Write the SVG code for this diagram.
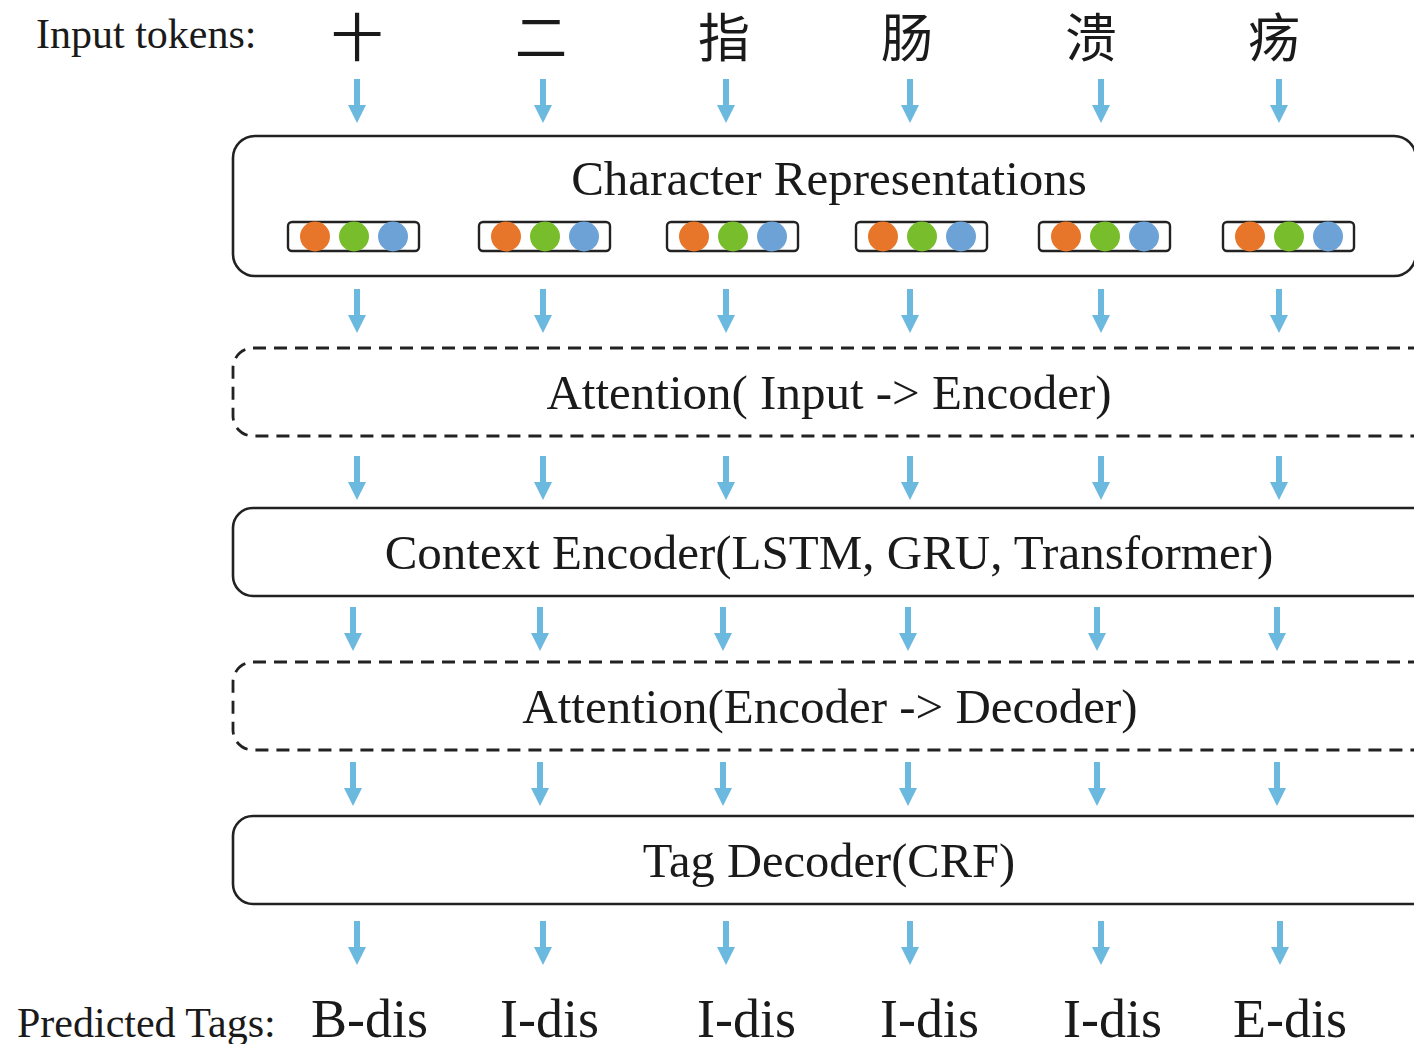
<svg xmlns="http://www.w3.org/2000/svg" xmlns:xlink="http://www.w3.org/1999/xlink" width="1414" height="1044" viewBox="0 0 1414 1044">
<style>
.lbl{font-family:"Liberation Serif","Times New Roman",serif;fill:#1a1a1a}
.cjk{font-family:"Noto Sans CJK SC","Noto Sans CJK TC",sans-serif;fill:#1a1a1a;font-size:52px;text-anchor:middle}
.box{fill:#fff;stroke:#222;stroke-width:2.6}
.dash{fill:#fff;stroke:#222;stroke-width:2.8;stroke-dasharray:13 8}
.mini{fill:#fff;stroke:#222;stroke-width:2.4}
.arr{fill:#6cb9df}
.o{fill:#e8762a}.g{fill:#78bd2c}.b{fill:#6ca2d6}
.mid{text-anchor:middle}
</style>
<defs>
<path id="arrow" d="M-3,0 h6 v26 h6 l-9,18 l-9,-18 h6 z"/>
<g id="vec">
<rect class="mini" x="0" y="0" width="131" height="29" rx="4"/>
<circle class="o" cx="27" cy="14.5" r="15"/>
<circle class="g" cx="66" cy="14.5" r="15"/>
<circle class="b" cx="105" cy="14.5" r="15"/>
</g>
</defs>

<g id="input-label">
<text class="lbl" x="36" y="48" font-size="42">Input tokens:</text>
</g>
<g id="tokens">
<text class="cjk" x="357" y="57">十</text>
<text class="cjk" x="541" y="57">二</text>
<text class="cjk" x="724" y="57">指</text>
<text class="cjk" x="907" y="57">肠</text>
<text class="cjk" x="1091" y="57">溃</text>
<text class="cjk" x="1274" y="57">疡</text>
</g>

<g id="char-repr">
<rect class="box" x="233" y="136" width="1183" height="140" rx="22"/>
<text class="lbl mid" x="829" y="195" font-size="49">Character Representations</text>
<use xlink:href="#vec" x="288" y="222"/>
<use xlink:href="#vec" x="479" y="222"/>
<use xlink:href="#vec" x="667" y="222"/>
<use xlink:href="#vec" x="856" y="222"/>
<use xlink:href="#vec" x="1039" y="222"/>
<use xlink:href="#vec" x="1223" y="222"/>
</g>

<g id="attn-input">
<rect class="dash" x="233" y="348" width="1200" height="88" rx="20"/>
<text class="lbl mid" x="829" y="409" font-size="49">Attention( Input -&gt; Encoder)</text>
</g>

<g id="context-encoder">
<rect class="box" x="233" y="508" width="1200" height="88" rx="20"/>
<text class="lbl mid" x="829" y="569" font-size="49">Context Encoder(LSTM, GRU, Transformer)</text>
</g>

<g id="attn-encoder">
<rect class="dash" x="233" y="662" width="1200" height="88" rx="20"/>
<text class="lbl mid" x="830" y="723" font-size="49">Attention(Encoder -&gt; Decoder)</text>
</g>

<g id="tag-decoder">
<rect class="box" x="233" y="816" width="1200" height="88" rx="20"/>
<text class="lbl mid" x="829" y="877" font-size="48.5">Tag Decoder(CRF)</text>
</g>

<g id="connectors" class="arr">
<use xlink:href="#arrow" x="357" y="79"/>
<use xlink:href="#arrow" x="543" y="79"/>
<use xlink:href="#arrow" x="726" y="79"/>
<use xlink:href="#arrow" x="910" y="79"/>
<use xlink:href="#arrow" x="1101" y="79"/>
<use xlink:href="#arrow" x="1279" y="79"/>

<use xlink:href="#arrow" x="357" y="289"/>
<use xlink:href="#arrow" x="543" y="289"/>
<use xlink:href="#arrow" x="726" y="289"/>
<use xlink:href="#arrow" x="910" y="289"/>
<use xlink:href="#arrow" x="1101" y="289"/>
<use xlink:href="#arrow" x="1279" y="289"/>

<use xlink:href="#arrow" x="357" y="456"/>
<use xlink:href="#arrow" x="543" y="456"/>
<use xlink:href="#arrow" x="726" y="456"/>
<use xlink:href="#arrow" x="910" y="456"/>
<use xlink:href="#arrow" x="1101" y="456"/>
<use xlink:href="#arrow" x="1279" y="456"/>

<use xlink:href="#arrow" x="353" y="607"/>
<use xlink:href="#arrow" x="540" y="607"/>
<use xlink:href="#arrow" x="723" y="607"/>
<use xlink:href="#arrow" x="908" y="607"/>
<use xlink:href="#arrow" x="1097" y="607"/>
<use xlink:href="#arrow" x="1277" y="607"/>

<use xlink:href="#arrow" x="353" y="762"/>
<use xlink:href="#arrow" x="540" y="762"/>
<use xlink:href="#arrow" x="723" y="762"/>
<use xlink:href="#arrow" x="908" y="762"/>
<use xlink:href="#arrow" x="1097" y="762"/>
<use xlink:href="#arrow" x="1277" y="762"/>

<use xlink:href="#arrow" x="357" y="921"/>
<use xlink:href="#arrow" x="543" y="921"/>
<use xlink:href="#arrow" x="726" y="921"/>
<use xlink:href="#arrow" x="910" y="921"/>
<use xlink:href="#arrow" x="1101" y="921"/>
<use xlink:href="#arrow" x="1280" y="921"/>
</g>

<g id="output-label">
<text class="lbl" x="17" y="1037" font-size="42">Predicted Tags:</text>
</g>
<g id="tags">
<text class="lbl" x="311" y="1037" font-size="54">B-dis</text>
<text class="lbl" x="500" y="1037" font-size="54">I-dis</text>
<text class="lbl" x="697" y="1037" font-size="54">I-dis</text>
<text class="lbl" x="880" y="1037" font-size="54">I-dis</text>
<text class="lbl" x="1063" y="1037" font-size="54">I-dis</text>
<text class="lbl" x="1233" y="1037" font-size="54">E-dis</text>
</g>
</svg>
